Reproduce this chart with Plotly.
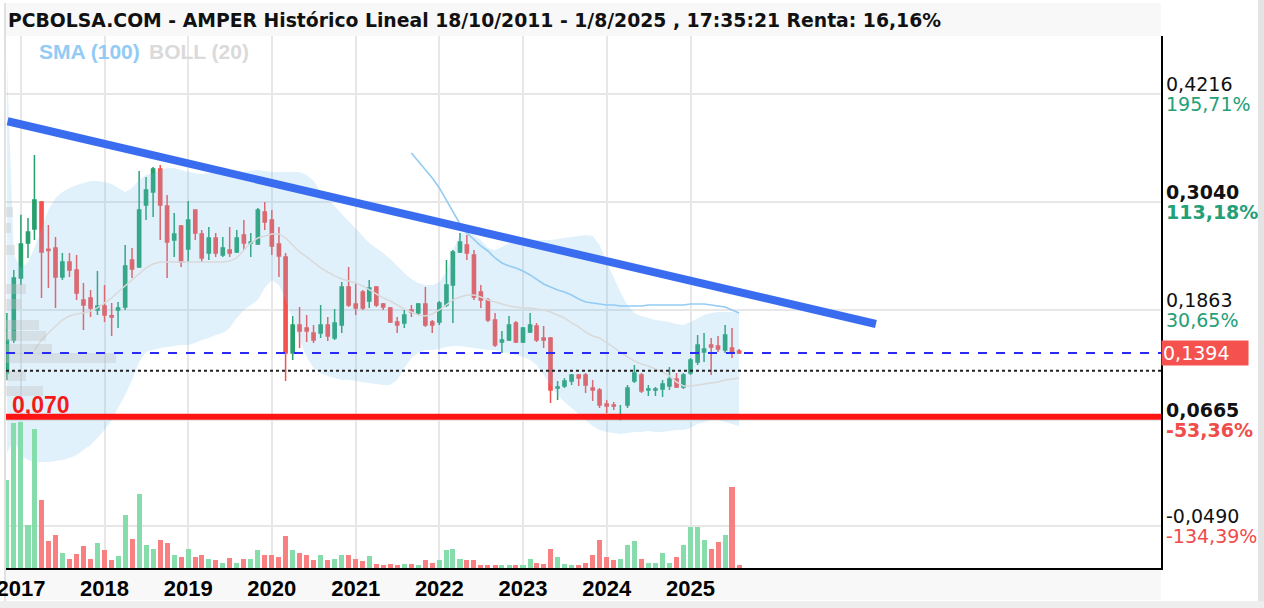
import pandas as pd
import plotly.graph_objects as go

# ---------------- DATA ----------------
TITLE = "PCBOLSA.COM - AMPER Histórico Lineal 18/10/2011 - 1/8/2025 , 17:35:21 Renta: 16,16%"

months = pd.date_range("2016-11-01", "2025-08-01", freq="MS")

open_ = [
    0.1176, 0.1536,
    0.2212, 0.2593, 0.2746, 0.3040, 0.2525, 0.2539, 0.2223, 0.2386, 0.2299, 0.1972, 0.1994, 0.1862,
    0.1906, 0.1800, 0.1862, 0.1896, 0.2408, 0.2332, 0.3007, 0.3149, 0.3400, 0.2996, 0.2626, 0.2779,
    0.2528, 0.2953, 0.2691, 0.2484, 0.2648, 0.2462, 0.2517, 0.2495, 0.2681, 0.2593, 0.2582, 0.2931,
    0.2844, 0.2582, 0.2441, 0.1394, 0.1700, 0.1667, 0.1612, 0.1612, 0.1700, 0.1558, 0.1700, 0.2114,
    0.1928, 0.2060, 0.1961, 0.2114, 0.1928, 0.1885, 0.1732, 0.1721, 0.1862, 0.1830, 0.1928, 0.1732,
    0.1732, 0.1917, 0.2136, 0.2495, 0.2571, 0.2462, 0.2060, 0.1972, 0.1754, 0.1514, 0.1536, 0.1721,
    0.1514, 0.1623, 0.1689, 0.1558, 0.1558, 0.1013, 0.1035, 0.1089, 0.1154, 0.1154, 0.1013, 0.0991,
    0.0839, 0.0828, 0.0697, 0.0828, 0.1089, 0.1154, 0.0991, 0.0991, 0.1002, 0.1035, 0.1111, 0.1024,
    0.1176, 0.1296, 0.1405, 0.1482, 0.1471, 0.1427, 0.1449, 0.1416,
]
high = [
    0.1830, 0.2299,
    0.2900, 0.2866, 0.3553, 0.3050, 0.2790, 0.2659, 0.2484, 0.2484, 0.2462, 0.2157, 0.2081, 0.2288,
    0.2136, 0.1939, 0.1950, 0.2572, 0.2539, 0.3378, 0.3313, 0.3422, 0.3444, 0.3116, 0.2920, 0.2790,
    0.3051, 0.2960, 0.2735, 0.2768, 0.2702, 0.2659, 0.2768, 0.2735, 0.2844, 0.2702, 0.2975, 0.3040,
    0.2953, 0.2768, 0.2484, 0.1798, 0.1896, 0.1809, 0.1700, 0.1917, 0.1787, 0.1874, 0.2168, 0.2332,
    0.2157, 0.2081, 0.2190, 0.2125, 0.1939, 0.1896, 0.1787, 0.1862, 0.1917, 0.1939, 0.2114, 0.1754,
    0.1961, 0.2408, 0.2517, 0.2702, 0.2681, 0.2517, 0.2136, 0.1994, 0.1830, 0.1634, 0.1798, 0.1743,
    0.1678, 0.1830, 0.1721, 0.1689, 0.1569, 0.1089, 0.1122, 0.1165, 0.1165, 0.1176, 0.1100, 0.1013,
    0.0882, 0.0860, 0.0828, 0.1046, 0.1263, 0.1176, 0.1046, 0.1024, 0.1100, 0.1241, 0.1176, 0.1176,
    0.1340, 0.1590, 0.1612, 0.1558, 0.1580, 0.1700, 0.1667, 0.1438,
]
low = [
    0.1100, 0.1503,
    0.2136, 0.2430, 0.2626, 0.1994, 0.2103, 0.1885, 0.2190, 0.2223, 0.1972, 0.1645, 0.1787, 0.1809,
    0.1732, 0.1580, 0.1667, 0.1862, 0.2212, 0.2321, 0.2844, 0.2877, 0.2626, 0.2212, 0.2441, 0.2332,
    0.2386, 0.2626, 0.2386, 0.2408, 0.2441, 0.2441, 0.2441, 0.2484, 0.2517, 0.2441, 0.2571, 0.2735,
    0.2462, 0.2223, 0.1089, 0.1318, 0.1449, 0.1514, 0.1503, 0.1558, 0.1525, 0.1536, 0.1612, 0.1896,
    0.1809, 0.1862, 0.1885, 0.1896, 0.1862, 0.1721, 0.1612, 0.1667, 0.1787, 0.1809, 0.1678, 0.1612,
    0.1700, 0.1896, 0.1721, 0.2484, 0.2408, 0.1972, 0.1885, 0.1732, 0.1460, 0.1394, 0.1525, 0.1503,
    0.1503, 0.1612, 0.1514, 0.1449, 0.0849, 0.0882, 0.1013, 0.1046, 0.1035, 0.0958, 0.0871, 0.0795,
    0.0741, 0.0773, 0.0660, 0.0795, 0.1067, 0.0958, 0.0926, 0.0926, 0.0915, 0.0991, 0.1013, 0.1002,
    0.1154, 0.1263, 0.1296, 0.1154, 0.1405, 0.1394, 0.1340, 0.1383,
]
close = [
    0.1536, 0.2212,
    0.2582, 0.2713, 0.3062, 0.2495, 0.2510, 0.2223, 0.2386, 0.2299, 0.2048, 0.1917, 0.1885, 0.1906,
    0.1809, 0.1787, 0.1885, 0.2343, 0.2310, 0.2953, 0.3171, 0.3400, 0.3007, 0.2604, 0.2691, 0.2386,
    0.2844, 0.2702, 0.2430, 0.2648, 0.2484, 0.2539, 0.2484, 0.2648, 0.2593, 0.2604, 0.2953, 0.2822,
    0.2560, 0.2451, 0.1394, 0.1700, 0.1634, 0.1634, 0.1536, 0.1700, 0.1580, 0.1721, 0.2114, 0.1917,
    0.1885, 0.1885, 0.2103, 0.1917, 0.1896, 0.1732, 0.1700, 0.1809, 0.1841, 0.1928, 0.1700, 0.1700,
    0.1939, 0.2136, 0.2495, 0.2604, 0.2484, 0.2005, 0.1972, 0.1754, 0.1482, 0.1536, 0.1700, 0.1514,
    0.1667, 0.1700, 0.1536, 0.1536, 0.0991, 0.1024, 0.1089, 0.1154, 0.1122, 0.1046, 0.0991, 0.0828,
    0.0817, 0.0817, 0.0719, 0.1013, 0.1176, 0.0980, 0.1002, 0.1002, 0.1057, 0.1111, 0.1024, 0.1154,
    0.1318, 0.1482, 0.1438, 0.1460, 0.1438, 0.1590, 0.1405, 0.1394,
]
# monthly volume (arbitrary units, read as bar heights)
volume = [
    88, 145,
    146, 43, 139, 68, 27, 33, 15, 9, 14, 22, 9, 25,
    18, 8, 12, 53, 29, 74, 23, 19, 28, 25, 13, 11,
    19, 11, 13, 9, 8, 5, 10, 5, 9, 9, 18, 13,
    13, 11, 32, 18, 15, 13, 8, 13, 8, 9, 13, 13,
    9, 7, 12, 4, 3, 4, 3, 4, 4, 3, 8, 5,
    8, 18, 19, 9, 8, 8, 3, 3, 3, 3, 3, 3,
    3, 9, 5, 4, 19, 11, 4, 3, 3, 5, 13, 28,
    11, 8, 9, 23, 27, 9, 5, 5, 15, 5, 11, 23,
    41, 41, 28, 19, 26, 33, 81, 3,
]
boll_upper = [
    0.4566, 0.2463,
    0.2321, 0.2386, 0.2539, 0.2757, 0.2953, 0.3084, 0.3149, 0.3193, 0.3225, 0.3247, 0.3269, 0.3269,
    0.3258, 0.3236, 0.3193, 0.3149, 0.3193, 0.3280, 0.3334, 0.3356, 0.3389, 0.3411, 0.3411, 0.3389,
    0.3367, 0.3356, 0.3345, 0.3356, 0.3367, 0.3378, 0.3367, 0.3356, 0.3367, 0.3378, 0.3389, 0.3378,
    0.3367, 0.3367, 0.3367, 0.3367, 0.3367, 0.3334, 0.3269, 0.3149, 0.3073, 0.2997, 0.2909, 0.2833,
    0.2757, 0.2670, 0.2593, 0.2539, 0.2484, 0.2419, 0.2343, 0.2266, 0.2201, 0.2157, 0.2136, 0.2136,
    0.2168, 0.2277, 0.2517, 0.2681, 0.2735, 0.2681, 0.2626, 0.2539, 0.2517, 0.2550, 0.2593, 0.2604,
    0.2615, 0.2626, 0.2626, 0.2626, 0.2626, 0.2637, 0.2648, 0.2659, 0.2670, 0.2681, 0.2670, 0.2572,
    0.2386, 0.2212, 0.2060, 0.1918, 0.1830, 0.1798, 0.1776, 0.1754, 0.1743, 0.1732, 0.1711, 0.1700,
    0.1732, 0.1776, 0.1809, 0.1830, 0.1841, 0.1841, 0.1841, 0.1830,
]
boll_mid = [
    None, None,
    None, None, 0.1427, 0.1536, 0.1612, 0.1689, 0.1754, 0.1798, 0.1820, 0.1830, 0.1852, 0.1885,
    0.1940, 0.1994, 0.2059, 0.2125, 0.2190, 0.2255, 0.2321, 0.2364, 0.2386, 0.2386, 0.2386, 0.2386,
    0.2386, 0.2386, 0.2386, 0.2386, 0.2386, 0.2386, 0.2397, 0.2430, 0.2517, 0.2593, 0.2648, 0.2670,
    0.2692, 0.2692, 0.2648, 0.2572, 0.2495, 0.2441, 0.2386, 0.2321, 0.2277, 0.2234, 0.2201, 0.2179,
    0.2157, 0.2125, 0.2081, 0.2037, 0.1994, 0.1961, 0.1918, 0.1874, 0.1841, 0.1809, 0.1798, 0.1820,
    0.1863, 0.1918, 0.1972, 0.2005, 0.2027, 0.2027, 0.2005, 0.1972, 0.1950, 0.1928, 0.1907, 0.1896,
    0.1885, 0.1885, 0.1874, 0.1863, 0.1841, 0.1809, 0.1776, 0.1722, 0.1678, 0.1623, 0.1580, 0.1558,
    0.1504, 0.1460, 0.1405, 0.1351, 0.1307, 0.1275, 0.1253, 0.1220, 0.1187, 0.1144, 0.1078, 0.1035,
    0.1035, 0.1046, 0.1057, 0.1068, 0.1078, 0.1100, 0.1111, 0.1122,
]
boll_lower = [
    0.0300, 0.0446,
    0.0283, 0.0228, 0.0207, 0.0207, 0.0207, 0.0217, 0.0228, 0.0250, 0.0283, 0.0337, 0.0392, 0.0468,
    0.0555, 0.0665, 0.0795, 0.0937, 0.1100, 0.1297, 0.1405, 0.1427, 0.1449, 0.1460, 0.1471, 0.1482,
    0.1482, 0.1504, 0.1536, 0.1558, 0.1591, 0.1613, 0.1667, 0.1776, 0.1863, 0.1918, 0.1972, 0.2103,
    0.2190, 0.2136, 0.1972, 0.1754, 0.1536, 0.1351, 0.1231, 0.1177, 0.1144, 0.1122, 0.1100, 0.1100,
    0.1089, 0.1079, 0.1068, 0.1057, 0.1046, 0.1046, 0.1100, 0.1231, 0.1340, 0.1395, 0.1427, 0.1427,
    0.1438, 0.1460, 0.1471, 0.1471, 0.1460, 0.1449, 0.1438, 0.1427, 0.1427, 0.1405, 0.1395, 0.1373,
    0.1351, 0.1318, 0.1264, 0.1155, 0.1046, 0.0937, 0.0861, 0.0795, 0.0730, 0.0665, 0.0599, 0.0555,
    0.0533, 0.0522, 0.0511, 0.0522, 0.0533, 0.0533, 0.0544, 0.0533, 0.0533, 0.0544, 0.0555, 0.0555,
    0.0577, 0.0621, 0.0643, 0.0665, 0.0665, 0.0643, 0.0621, 0.0599,
]
sma_months = pd.date_range("2021-09-01", "2025-08-01", freq="MS")
sma100 = [
    0.3574, 0.3487, 0.3389, 0.3302,
    0.3193, 0.3062, 0.2931, 0.2800, 0.2702, 0.2626, 0.2561, 0.2506, 0.2430, 0.2375, 0.2343, 0.2321,
    0.2288, 0.2245, 0.2201, 0.2146, 0.2114, 0.2081, 0.2059, 0.2027, 0.1983, 0.1950, 0.1939, 0.1928,
    0.1918, 0.1918, 0.1907, 0.1907, 0.1907, 0.1907, 0.1918, 0.1918, 0.1918, 0.1918, 0.1918, 0.1918,
    0.1928, 0.1928, 0.1928, 0.1918, 0.1907, 0.1896, 0.1863, 0.1830,
]
# volume profile (left side, horizontal)
profile_prices = [0.2931, 0.2757, 0.2517, 0.2092, 0.1929, 0.1700, 0.1580, 0.1438, 0.1340, 0.1144, 0.0980]
profile_volume = [7, 5, 9, 20, 15, 33, 40, 46, 110, 20, 37]

trend_dates = ["2016-11-04", "2027-03-21"]
trend_values = [0.3920, 0.1710]

support_level = 0.070
support_label = "0,070"
last_price = 0.1394
last_price_label = "0,1394"
base_price = 0.1200

axis_prices = [0.4216, 0.3040, 0.1863, 0.0665, -0.0490]
axis_price_labels = ["0,4216", "0,3040", "0,1863", "0,0665", "-0,0490"]
axis_pct_labels = ["195,71%", "113,18%", "30,65%", "-53,36%", "-134,39%"]
axis_bold = [False, True, False, True, False]

year_ticks = ["2017-01-01", "2018-01-01", "2019-01-01", "2020-01-01", "2021-01-01",
              "2022-01-01", "2023-01-01", "2024-01-01", "2025-01-01"]
year_labels = ["2017", "2018", "2019", "2020", "2021", "2022", "2023", "2024", "2025"]

# ---------------- STYLE ----------------
W, H = 1264, 608
PL, PR, PT, PB = 6, 1161, 36, 568          # plot box in pixels
GREEN = "#26a06c"
RED = "#f5524f"
VOL_GREEN = "#86dcab"
VOL_RED = "#f98080"
PCT_GREEN = "#23a078"
PCT_RED = "#f04c4c"
GRID = "#e7e7e7"


def fx(px):
    return (px - PL) / (PR - PL)


def fy(py):
    return (PB - py) / (PB - PT)


fig = go.Figure()

# Bollinger band fill
fig.add_trace(go.Scatter(x=months, y=boll_upper, mode="lines", line=dict(width=0),
                         hoverinfo="skip", showlegend=False))
fig.add_trace(go.Scatter(x=months, y=boll_lower, mode="lines", line=dict(width=0),
                         fill="tonexty", fillcolor="rgba(120,190,240,0.22)",
                         hoverinfo="skip", showlegend=False))
fig.add_trace(go.Scatter(x=months, y=boll_mid, mode="lines", line=dict(width=1.5, color="#d9d9d9"),
                         hoverinfo="skip", showlegend=False))
fig.add_trace(go.Scatter(x=sma_months, y=sma100, mode="lines", line=dict(width=1.6, color="#93cbf3"),
                         hoverinfo="skip", showlegend=False))

# candles
fig.add_trace(go.Candlestick(
    x=months, open=open_, high=high, low=low, close=close,
    increasing=dict(line=dict(color=GREEN, width=1.5), fillcolor=GREEN),
    decreasing=dict(line=dict(color=RED, width=1.5), fillcolor=RED),
    whiskerwidth=0, showlegend=False, hoverinfo="skip"))

# trend line
fig.add_trace(go.Scatter(x=trend_dates, y=trend_values, mode="lines",
                         line=dict(width=8, color="#3a6cf0"), hoverinfo="skip", showlegend=False))

# volume
vol_colors = [VOL_GREEN if c >= o else VOL_RED for o, c in zip(open_, close)]
fig.add_trace(go.Bar(x=months, y=volume, marker=dict(color=vol_colors, line=dict(width=0)),
                     width=22 * 86400000, yaxis="y2", hoverinfo="skip", showlegend=False))

# volume profile
fig.add_trace(go.Bar(x=profile_volume, y=profile_prices, orientation="h", width=0.011,
                     marker=dict(color="rgba(190,190,190,0.35)", line=dict(width=0)),
                     xaxis="x2", yaxis="y", hoverinfo="skip", showlegend=False))

shapes = [
    # frame / backgrounds
    dict(type="rect", xref="paper", yref="paper", x0=fx(4), x1=fx(PR), y0=fy(PT), y1=fy(3),
         fillcolor="#f8f8f8", line=dict(width=0), layer="below"),
    dict(type="rect", xref="paper", yref="paper", x0=fx(4), x1=fx(PR), y0=fy(600), y1=fy(PB),
         fillcolor="#f8f8f8", line=dict(width=0), layer="below"),
    dict(type="rect", xref="paper", yref="paper", x0=fx(1258), x1=fx(1264), y0=fy(608), y1=fy(0),
         fillcolor="#e4e4e4", line=dict(width=0), layer="below"),
    dict(type="rect", xref="paper", yref="paper", x0=fx(0), x1=fx(1264), y0=fy(608), y1=fy(601),
         fillcolor="#eeeeee", line=dict(width=0), layer="below"),
    dict(type="rect", xref="paper", yref="paper", x0=fx(4), x1=fx(6), y0=fy(601), y1=fy(3),
         fillcolor="#e0e0e0", line=dict(width=0), layer="below"),
    # horizontal levels
    dict(type="line", xref="paper", yref="y", x0=0, x1=1, y0=base_price, y1=base_price,
         line=dict(color="#222222", width=2, dash="dot"), layer="above"),
    dict(type="line", xref="paper", yref="y", x0=0, x1=1, y0=last_price, y1=last_price,
         line=dict(color="#2a2af5", width=2, dash="dash"), layer="above"),
    dict(type="line", xref="paper", yref="y", x0=0, x1=1, y0=support_level, y1=support_level,
         line=dict(color="#ff1414", width=6), layer="above"),
]

annotations = [
    dict(text="<b>" + TITLE + "</b>", xref="paper", yref="paper", x=fx(6), y=1,
         xanchor="left", yanchor="middle", yshift=PT - 20, showarrow=False,
         font=dict(family="DejaVu Sans", size=18.8, color="#111111")),
    dict(text="<b>SMA (100)</b>", xref="paper", yref="paper", x=fx(37), y=1,
         xanchor="left", yanchor="middle", yshift=-(51 - PT), showarrow=False,
         font=dict(family="Liberation Sans", size=21, color="#92cbf5")),
    dict(text="<b>BOLL (20)</b>", xref="paper", yref="paper", x=fx(147), y=1,
         xanchor="left", yanchor="middle", yshift=-(51 - PT), showarrow=False,
         font=dict(family="Liberation Sans", size=21, color="#dadada")),
    dict(text="<b>" + support_label + "</b>", xref="paper", yref="y", x=fx(10), y=support_level,
         xanchor="left", yanchor="middle", yshift=12, showarrow=False,
         font=dict(family="Liberation Sans", size=23, color="#f51a1a")),
    dict(text=last_price_label, xref="paper", yref="y", x=1, y=last_price,
         xanchor="left", yanchor="middle", showarrow=False, align="left", width=84,
         bgcolor=RED, borderpad=1, xshift=0,
         font=dict(family="DejaVu Sans", size=19, color="white")),
]
for val, plab, pct, bold in zip(axis_prices, axis_price_labels, axis_pct_labels, axis_bold):
    pcol = PCT_RED if pct.startswith("-") else PCT_GREEN
    t1 = "<b>" + plab + "</b>" if bold else plab
    t2 = "<b>" + pct + "</b>" if bold else pct
    annotations.append(dict(text=t1, xref="paper", yref="y", x=1, y=val, xanchor="left",
                            yanchor="middle", xshift=3, yshift=10, showarrow=False,
                            font=dict(family="DejaVu Sans", size=19, color="#111111")))
    annotations.append(dict(text=t2, xref="paper", yref="y", x=1, y=val, xanchor="left",
                            yanchor="middle", xshift=3, yshift=-10, showarrow=False,
                            font=dict(family="DejaVu Sans", size=19, color=pcol)))

fig.update_layout(
    width=W, height=H,
    margin=dict(l=PL, r=W - PR, t=PT, b=H - PB, pad=0, autoexpand=False),
    paper_bgcolor="white", plot_bgcolor="white",
    showlegend=False, hovermode=False,
    bargap=0,
    xaxis=dict(type="date", range=["2016-10-28", "2030-08-16"], automargin=False,
               tickvals=year_ticks, ticktext=year_labels, ticklabeloverflow="allow",
               tickfont=dict(family="Liberation Sans", size=22, color="black", weight="bold"),
               showgrid=True, gridcolor=GRID, gridwidth=2,
               showline=True, linecolor="black", linewidth=2,
               ticks="", zeroline=False, rangeslider=dict(visible=False), fixedrange=True),
    yaxis=dict(range=[-0.0949, 0.4849], tickvals=axis_prices, showticklabels=False,
               automargin=False,
               side="right", showgrid=True, gridcolor=GRID, gridwidth=2,
               showline=True, linecolor="black", linewidth=2,
               ticks="", zeroline=False, fixedrange=True),
    yaxis2=dict(overlaying="y", range=[0, PB - PT], visible=False, fixedrange=True),
    xaxis2=dict(overlaying="x", range=[0, PR - PL], visible=False, fixedrange=True, anchor="y"),
    shapes=shapes,
    annotations=annotations,
)

fig.write_html("out.html", config={"displayModeBar": False},
               post_script="document.body.style.margin='0';document.body.style.overflow='hidden';")
